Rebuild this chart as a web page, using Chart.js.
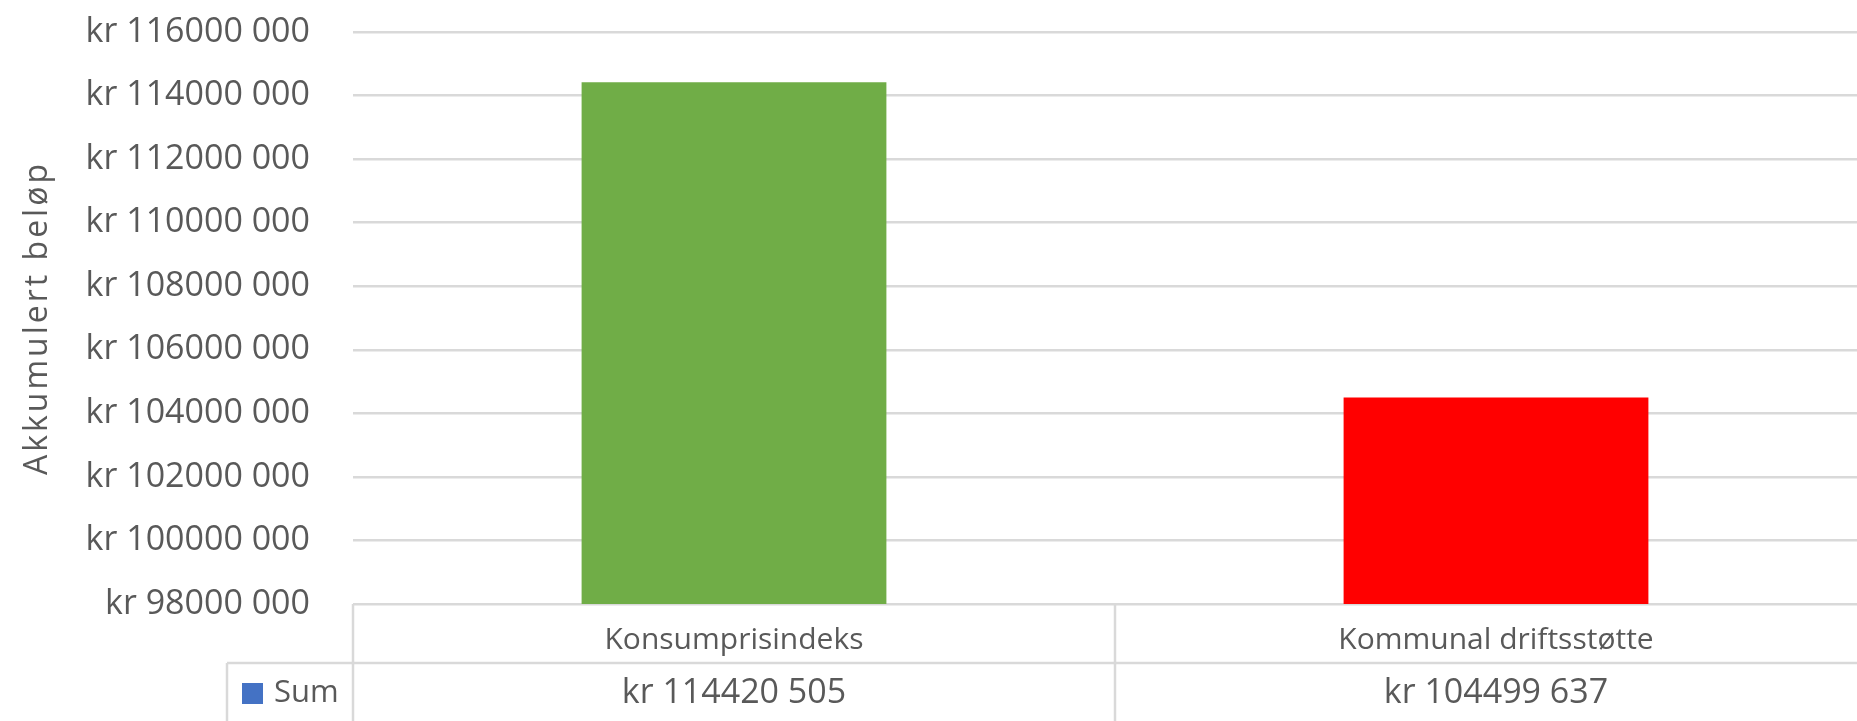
<!DOCTYPE html>
<html>
<head>
<meta charset="utf-8">
<script src="https://cdn.jsdelivr.net/npm/chart.js@4"></script>
<style>
  html, body { margin: 0; padding: 0; background: #fff; overflow: hidden; }
  #wrap { position: relative; width: 1880px; height: 721px; }
</style>
</head>
<body>
<div id="wrap"><canvas id="chart"></canvas></div>
<script>
const categories = ['Konsumprisindeks', 'Kommunal driftsstøtte'];
const sumValues = [114420505, 104499637];
const barColors = ['#70AD47', '#FF0000'];
const seriesName = 'Sum';
const seriesColor = '#4472C4';
const yMin = 98000000;
const yMax = 116000000;
const yStep = 2000000;
const axisTitle = 'Akkumulert beløp';

const FONT = "'Open Sans', sans-serif";
const TEXT = '#595959';
const LINE = '#D9D9D9';

// "kr 114420 505" style, like the sheet's number format
function kr(n) {
  const s = String(Math.round(n));
  return 'kr ' + s.slice(0, -3) + ' ' + s.slice(-3);
}

// axis title is drawn in the grid layer, so widen its spacing there only
const titleSpacing = {
  id: 'titleSpacing',
  beforeDraw(chart) { chart.ctx.letterSpacing = '3px'; },
  beforeDatasetsDraw(chart) { chart.ctx.letterSpacing = '0px'; }
};

// the data table under the plot (value row + legend key)
const dataTable = {
  id: 'dataTable',
  afterDraw(chart) {
    const ctx = chart.ctx;
    const x = chart.scales.x;
    const area = chart.chartArea;
    const rowTop = area.bottom;
    const rowMid = area.bottom + 59;
    const bottom = chart.height;
    const legendLeft = 227;
    const mid = (x.getPixelForValue(0) + x.getPixelForValue(1)) / 2;

    ctx.save();
    ctx.strokeStyle = LINE;
    ctx.lineWidth = 2.5;
    ctx.beginPath();
    ctx.moveTo(legendLeft, rowMid); ctx.lineTo(area.right + 10, rowMid);
    ctx.moveTo(area.left, rowTop); ctx.lineTo(area.left, bottom);
    ctx.moveTo(mid, rowTop); ctx.lineTo(mid, bottom);
    ctx.moveTo(legendLeft, rowMid); ctx.lineTo(legendLeft, bottom);
    ctx.stroke();

    ctx.fillStyle = TEXT;
    ctx.textBaseline = 'middle';
    ctx.textAlign = 'center';
    ctx.font = '34px ' + FONT;
    const ty = rowMid + 30;
    sumValues.forEach((v, i) => ctx.fillText(kr(v), x.getPixelForValue(i), ty));

    ctx.fillStyle = seriesColor;
    ctx.fillRect(242, 683, 21, 21);
    ctx.fillStyle = TEXT;
    ctx.textAlign = 'left';
    ctx.font = '31px ' + FONT;
    ctx.fillText(seriesName, 274, ty);
    ctx.restore();
  }
};

new Chart(document.getElementById('chart'), {
  type: 'bar',
  data: {
    labels: categories,
    datasets: [{ label: seriesName, data: sumValues, backgroundColor: barColors, borderWidth: 0, barPercentage: 0.4, categoryPercentage: 1 }]
  },
  options: {
    responsive: true,
    maintainAspectRatio: false,
    animation: false,
    layout: { padding: { top: 32, right: 3, left: 0, bottom: 0 } },
    plugins: { legend: { display: false }, tooltip: { enabled: false } },
    scales: {
      x: {
        afterFit: s => { s.height = 117; s.paddingLeft = 0; s.paddingRight = 0; },
        grid: { display: false },
        border: { display: false },
        ticks: { z: 1, color: TEXT, font: { family: FONT, size: 30 }, padding: 10, maxRotation: 0 }
      },
      y: {
        min: yMin,
        max: yMax,
        afterFit: s => { s.width = 353; s.paddingTop = 0; s.paddingBottom = 0; },
        grid: { color: LINE, lineWidth: 2.5, drawTicks: false },
        border: { display: false },
        ticks: { z: 1, stepSize: yStep, color: TEXT, font: { family: FONT, size: 34 }, padding: 43, callback: v => kr(v) },
        title: { display: true, text: axisTitle, color: TEXT, font: { family: FONT, size: 32 }, padding: { top: 19, bottom: 0 } }
      }
    }
  },
  plugins: [titleSpacing, dataTable]
});
</script>
</body>
</html>
